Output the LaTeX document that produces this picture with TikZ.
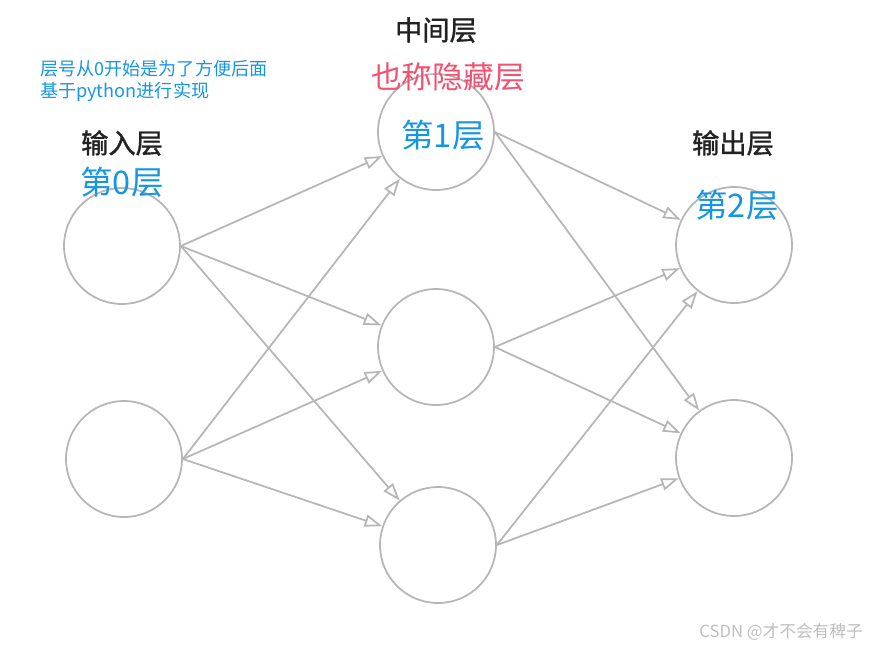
\documentclass[tikz,border=0pt]{standalone}
\usepackage{fontspec}
\setmainfont{Noto Sans CJK SC}
\newfontfamily\medfont{Noto Sans CJK SC}[BoldFont={Noto Sans CJK SC}, BoldFeatures={FakeBold=1.3}]
\usetikzlibrary{arrows.meta,positioning}
\definecolor{linegray}{RGB}{182,182,182}
\definecolor{layerblue}{RGB}{22,150,225}
\definecolor{hidered}{RGB}{242,82,112}
\definecolor{marktext}{RGB}{190,190,190}
\definecolor{titletext}{RGB}{34,34,34}

\begin{document}
\begin{tikzpicture}[
  x=0.02cm, y=-0.02cm,
  neuron/.style={draw=linegray, line width=1pt, circle, minimum size=2.32cm, inner sep=0pt},
  arr/.style={-{Triangle[open, length=10pt, width=7pt]}, line width=1pt, color=linegray},
  title/.style={font=\fontsize{15.5}{17}\selectfont\medfont\bfseries, text=titletext},
  num/.style={font=\fontsize{18.5}{20}\selectfont, text=layerblue}
]
\useasboundingbox (0,0) rectangle (871,647);

% ---- Neurons ----
\node[neuron] (in1) at (122,246) {};
\node[neuron] (in2) at (124,459) {};
\node[neuron] (hd1) at (436,132) {};
\node[neuron] (hd2) at (436,347) {};
\node[neuron] (hd3) at (438,545) {};
\node[neuron] (out1) at (734,245) {};
\node[neuron] (out2) at (734,458) {};

% ---- Labels ----
\node[title] (intitle) at (122,143) {输入层};
\node[num] (innum) at (122,182) {第0层};
\node[title] (hdtitle) at (436,30) {中间层};
\node[font=\fontsize{17.5}{19}\selectfont, text=hidered] (hdalias) at (448,77) {也称隐藏层};
\node[num] (hdnum) at (443,135) {第1层};
\node[title] (outtitle) at (733,143) {输出层};
\node[num] (outnum) at (737,205) {第2层};

\node[font=\fontsize{10.3}{12.5}\selectfont, text=layerblue, align=left, anchor=north west]
  (note) at (34,54) {层号从0开始是为了方便后面\\基于python进行实现};
\node[font=\fontsize{9.5}{11}\selectfont, text=marktext, anchor=east] (mark) at (869,632)
  {CSDN @才不会有稗子};

% ---- Connections ----
\foreach \src in {in1,in2}
  \foreach \dst in {hd1,hd2,hd3}
    \draw[arr] (\src.east) -- (\dst);
\foreach \src in {hd1,hd2,hd3}
  \foreach \dst in {out1,out2}
    \draw[arr] (\src.east) -- (\dst);

\end{tikzpicture}
\end{document}
